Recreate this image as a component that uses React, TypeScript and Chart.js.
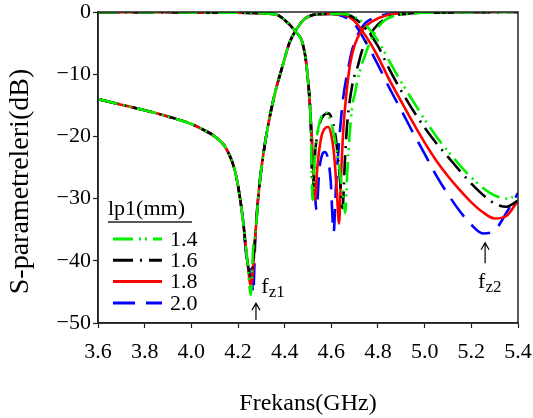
import { useEffect, useRef } from 'react';
import { Chart, registerables } from 'chart.js';

Chart.register(...registerables);

const FONT = '"Liberation Serif", "Times New Roman", Times, serif';

// ---------- axis ticks ----------
const xTickValues = [3.6, 3.8, 4.0, 4.2, 4.4, 4.6, 4.8, 5.0, 5.2, 5.4];
const yTickValues = [0, -10, -20, -30, -40, -50];
const xTitle = 'Frekans(GHz)';
const yTitle = 'S-parametreleri(dB)';

// ---------- series ----------
const seriesLabels = ['1.4', '1.6', '1.8', '2.0'];

// S21 (transmission) : shared frequency grid (GHz)
const s21Freq = [
  3.6, 3.7, 3.8, 3.9, 4.0, 4.05, 4.1, 4.15, 4.19, 4.22, 4.24,
  4.255, 4.265,
  4.275, 4.29, 4.31, 4.33, 4.36, 4.39, 4.42, 4.45, 4.48, 4.51, 4.55, 4.6,
  4.65, 4.7, 4.75, 4.8, 4.85, 4.9, 4.95, 5.0, 5.05, 5.1, 5.15, 5.2, 5.25, 5.3, 5.35, 5.4,
];
const s21Low = [-14.0, -14.9, -15.8, -16.8, -18.0, -18.9, -20.0, -22.0, -26.0, -33.0, -40.0];
const s21Dip14 = [-45.5, -38.0];
const s21Dip16 = [-42.5, -40.0];
const s21Dip18 = [-44.0, -41.0];
const s21Dip20 = [-40.5, -45.2];
const s21Mid = [-35.5, -28.5, -22.5, -18.0, -12.8, -8.8, -5.0, -2.8, -1.3, -0.6, -0.35, -0.3];
const s21High14 = [-0.3, -0.8, -2.2, -4.6, -8.0, -11.3, -14.3, -17.3, -20.0, -22.4, -24.6, -26.6, -28.3, -29.5, -30.0, -29.4];
const s21High16 = [-0.3, -1.0, -2.8, -5.5, -9.3, -12.7, -15.8, -18.6, -21.1, -23.3, -25.5, -27.6, -29.4, -30.8, -31.3, -30.3];
const s21High18 = [-0.4, -1.5, -4.0, -7.2, -11.0, -14.4, -17.8, -21.0, -23.9, -26.4, -28.6, -30.6, -32.2, -33.2, -32.8, -30.3];
const s21High20 = [-0.7, -2.0, -5.0, -8.5, -12.3, -15.8, -19.4, -22.8, -26.3, -29.3, -32.0, -34.2, -35.6, -35.1, -32.3, -29.1];

// S11 (reflection) : common lower part
const s11BaseFreq = [3.6, 3.9, 4.1, 4.2, 4.3, 4.37, 4.42, 4.45, 4.47, 4.48, 4.49, 4.5, 4.51];
const s11BaseVal = [-0.05, -0.05, -0.1, -0.1, -0.2, -0.5, -2.0, -3.3, -4.3, -5.5, -7.5, -11.0, -16.0];

const s11Freq14 = [4.52, 4.53, 4.545, 4.56, 4.573, 4.59, 4.61, 4.63, 4.648, 4.66, 4.668, 4.678, 4.69, 4.7, 4.715, 4.75, 4.78, 4.82, 4.87, 4.95, 5.1, 5.4];
const s11Val14 = [-30.2, -23.0, -18.5, -16.6, -16.1, -16.8, -19.5, -24.0, -29.0, -32.3, -26.0, -20.0, -15.0, -13.3, -10.5, -6.4, -3.7, -1.6, -0.6, -0.2, -0.05, 0];

const s11Freq16 = [4.52, 4.532, 4.55, 4.57, 4.587, 4.605, 4.62, 4.635, 4.648, 4.658, 4.668, 4.69, 4.715, 4.73, 4.765, 4.8, 4.85, 4.92, 5.05, 5.4];
const s11Val16 = [-28.6, -22.0, -18.0, -16.5, -16.3, -17.5, -20.5, -26.0, -31.5, -24.0, -18.0, -11.7, -8.5, -6.4, -3.7, -2.0, -0.8, -0.3, -0.1, 0];

const s11Freq18 = [4.52, 4.53, 4.54, 4.555, 4.57, 4.587, 4.6, 4.612, 4.624, 4.633, 4.642, 4.652, 4.665, 4.68, 4.7, 4.73, 4.775, 4.83, 4.9, 5.05, 5.4];
const s11Val18 = [-23.0, -30.2, -25.0, -20.5, -18.8, -18.5, -19.8, -23.0, -29.0, -34.0, -26.0, -18.5, -13.0, -8.5, -5.3, -3.0, -1.5, -0.6, -0.2, -0.05, 0];

const s11Freq20 = [4.522, 4.537, 4.548, 4.56, 4.572, 4.585, 4.597, 4.61, 4.62, 4.635, 4.65, 4.67, 4.69, 4.715, 4.745, 4.795, 4.85, 4.95, 5.4];
const s11Val20 = [-24.0, -31.8, -25.5, -23.0, -22.5, -23.5, -27.0, -35.4, -28.0, -20.0, -14.0, -9.5, -6.0, -3.5, -1.8, -0.8, -0.3, -0.1, 0];

// ---------- styles ----------
const seriesColors = ['#00f000', '#000000', '#ff0000', '#0000ff'];
const seriesDashes: number[][] = [[20, 6, 2, 4, 2, 6], [20, 7, 2, 7], [], [22, 11]];

// transmission-zero annotations (value coordinates)
const zeroNotes = [
  { sub: 'z1', arrowF: 4.277, arrowTop: -46.8, arrowBottom: -49.5, textF: 4.30, textDb: -45.2 },
  { sub: 'z2', arrowF: 5.259, arrowTop: -37.1, arrowBottom: -40.4, textF: 5.229, textDb: -44.4 },
];

const toPoints = (f: number[], v: number[]) => f.map((x, i) => ({ x, y: v[i] }));

const s21Sets = [
  [...s21Low, ...s21Dip14, ...s21Mid, ...s21High14],
  [...s21Low, ...s21Dip16, ...s21Mid, ...s21High16],
  [...s21Low, ...s21Dip18, ...s21Mid, ...s21High18],
  [...s21Low, ...s21Dip20, ...s21Mid, ...s21High20],
];
const s11Sets = [
  { f: [...s11BaseFreq, ...s11Freq14], v: [...s11BaseVal, ...s11Val14] },
  { f: [...s11BaseFreq, ...s11Freq16], v: [...s11BaseVal, ...s11Val16] },
  { f: [...s11BaseFreq, ...s11Freq18], v: [...s11BaseVal, ...s11Val18] },
  { f: [...s11BaseFreq, ...s11Freq20], v: [...s11BaseVal, ...s11Val20] },
];

const overlayPlugin = {
  id: 'overlay',
  afterDraw(chart: any) {
    const { ctx, chartArea } = chart;
    const { left, top, right, bottom } = chartArea;
    const xs = chart.scales.x;
    const ys = chart.scales.y;
    ctx.save();
    // frame
    ctx.strokeStyle = '#222';
    ctx.lineWidth = 1.5;
    ctx.setLineDash([]);
    ctx.strokeRect(left, top, right - left, bottom - top);

    // y axis title
    ctx.save();
    ctx.translate(21, (top + bottom) / 2 + 14);
    ctx.rotate(-Math.PI / 2);
    ctx.fillStyle = '#000';
    ctx.font = `28px ${FONT}`;
    ctx.textAlign = 'center';
    ctx.textBaseline = 'middle';
    ctx.fillText(yTitle, 0, 0);
    ctx.restore();

    // legend
    const lx = left + 10;
    ctx.fillStyle = '#000';
    ctx.font = `22px ${FONT}`;
    ctx.textAlign = 'left';
    ctx.textBaseline = 'alphabetic';
    ctx.fillText('lp1(mm)', lx, top + 203);
    ctx.beginPath();
    ctx.lineWidth = 1.5;
    ctx.moveTo(lx, top + 210);
    ctx.lineTo(lx + 84, top + 210);
    ctx.stroke();
    seriesLabels.forEach((lab, i) => {
      const cy = top + 227 + i * 21.3;
      ctx.beginPath();
      ctx.strokeStyle = seriesColors[i];
      ctx.lineWidth = 3;
      ctx.setLineDash(seriesDashes[i]);
      ctx.moveTo(lx + 5, cy);
      ctx.lineTo(lx + 54, cy);
      ctx.stroke();
      ctx.setLineDash([]);
      ctx.fillStyle = '#000';
      ctx.textBaseline = 'middle';
      ctx.fillText(lab, lx + 62, cy + 1);
    });

    // zero annotations
    ctx.strokeStyle = '#000';
    ctx.fillStyle = '#000';
    ctx.lineWidth = 1.2;
    zeroNotes.forEach((n) => {
      const ax = xs.getPixelForValue(n.arrowF);
      const at = ys.getPixelForValue(n.arrowTop);
      const ab = ys.getPixelForValue(n.arrowBottom);
      ctx.beginPath();
      ctx.moveTo(ax, ab);
      ctx.lineTo(ax, at);
      ctx.moveTo(ax - 4, at + 7);
      ctx.lineTo(ax, at);
      ctx.lineTo(ax + 4, at + 7);
      ctx.stroke();
      const tx = xs.getPixelForValue(n.textF);
      const ty = ys.getPixelForValue(n.textDb);
      ctx.textBaseline = 'alphabetic';
      ctx.font = `22px ${FONT}`;
      ctx.fillText('f', tx, ty);
      const fw = ctx.measureText('f').width;
      ctx.font = `17px ${FONT}`;
      ctx.fillText(n.sub, tx + fw, ty + 4);
    });
    ctx.restore();
  },
};

export default function App() {
  const ref = useRef<HTMLCanvasElement | null>(null);
  useEffect(() => {
    if (!ref.current) return;
    const datasets: any[] = [];
    seriesLabels.forEach((lab, i) => {
      const common = {
        borderColor: seriesColors[i],
        backgroundColor: seriesColors[i],
        borderWidth: 2.6,
        borderDash: seriesDashes[i],
        pointRadius: 0,
        fill: false,
        cubicInterpolationMode: 'monotone',
      };
      datasets.push({ label: lab + ' S21', data: toPoints(s21Freq, s21Sets[i]), ...common });
      datasets.push({ label: lab + ' S11', data: toPoints(s11Sets[i].f, s11Sets[i].v), ...common });
    });
    const chart = new Chart(ref.current, {
      type: 'line',
      data: { datasets },
      options: {
        animation: false,
        responsive: false,
        maintainAspectRatio: false,
        layout: { padding: { top: 12, right: 15, left: 0, bottom: 0 } },
        plugins: { legend: { display: false }, tooltip: { enabled: false } },
        scales: {
          x: {
            type: 'linear',
            min: 3.6,
            max: 5.4,
            afterBuildTicks: (s: any) => { s.ticks = xTickValues.map((v) => ({ value: v })); },
            afterFit: (s: any) => { s.height = 95; s.paddingLeft = 0; s.paddingRight = 0; },
            ticks: {
              autoSkip: false,
              maxRotation: 0,
              padding: 11,
              color: '#000',
              font: { family: FONT, size: 22 },
              callback: (v: any) => Number(v).toFixed(1),
            },
            grid: { drawOnChartArea: false, drawTicks: true, tickLength: 5, tickColor: '#222', tickWidth: 1.2 },
            border: { display: true, color: '#222', width: 1.5 },
            title: { display: true, text: xTitle, color: '#000', font: { family: FONT, size: 24 }, padding: { top: 1, bottom: 0 } },
          },
          y: {
            type: 'linear',
            min: -50,
            max: 0,
            afterBuildTicks: (s: any) => { s.ticks = yTickValues.map((v) => ({ value: v })); },
            afterFit: (s: any) => { s.width = 98; s.paddingTop = 0; s.paddingBottom = 0; },
            ticks: {
              padding: 2,
              color: '#000',
              font: { family: FONT, size: 22 },
              callback: (v: any) => String(v).replace('-', '\u2212'),
            },
            grid: { drawOnChartArea: false, drawTicks: true, tickLength: 5, tickColor: '#222', tickWidth: 1.2 },
            border: { display: true, color: '#222', width: 1.5 },
            title: { display: false },
          },
        },
      },
      plugins: [overlayPlugin],
    } as any);
    return () => chart.destroy();
  }, []);
  return (
    <div style={{ position: 'absolute', left: 0, top: 0, width: 533, height: 418, background: '#fff' }}>
      <canvas ref={ref} width={533} height={418} style={{ display: 'block' }} />
    </div>
  );
}
